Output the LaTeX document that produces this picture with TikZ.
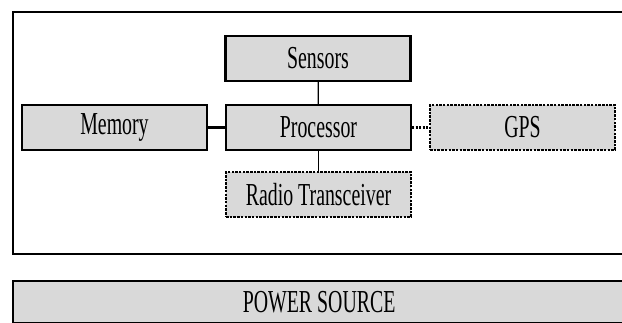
\documentclass[tikz,border=0pt]{standalone}
\usepackage{fontspec}
\setmainfont{Liberation Serif}[FakeStretch=0.62]
\definecolor{boxgrey}{HTML}{D9D9D9}
\tikzset{
  unitbox/.style={draw=black, fill=boxgrey, line width=2.2pt, minimum width=185pt, minimum height=45pt, inner sep=0pt, font=\fontsize{32}{34}\selectfont},
  optbox/.style={unitbox, line width=1.8pt, dash pattern=on 2.5pt off 1.2pt},
  link/.style={line width=1.2pt},
  thicklink/.style={line width=2.6pt},
  dotlink/.style={line width=2.2pt, dash pattern=on 2pt off 1.5pt}
}
\begin{document}
\begin{tikzpicture}[x=1pt,y=-1pt]
\useasboundingbox (0,0) rectangle (622,323);
\begin{scope}
\clip (0,0) rectangle (622,323);
\draw[line width=2pt] (13,12) rectangle (640,254);
\node[unitbox, minimum width=612pt, minimum height=42pt, anchor=north west] (power) at (12,280) {POWER SOURCE};
\end{scope}
\node[unitbox] (sensors) at (318,58.5) {Sensors};
\node[unitbox] (memory) at (114.5,127.5) {Memory};
\node[unitbox] (proc) at (318.5,127.5) {Processor};
\node[optbox] (gps) at (522.5,127.5) {GPS};
\node[optbox] (radio) at (318.5,194.5) {Radio Transceiver};
\draw[link] (sensors) -- (proc);
\draw[link] (proc) -- (radio);
\draw[thicklink] (memory) -- (proc);
\draw[dotlink] (proc) -- (gps);
\end{tikzpicture}
\end{document}
